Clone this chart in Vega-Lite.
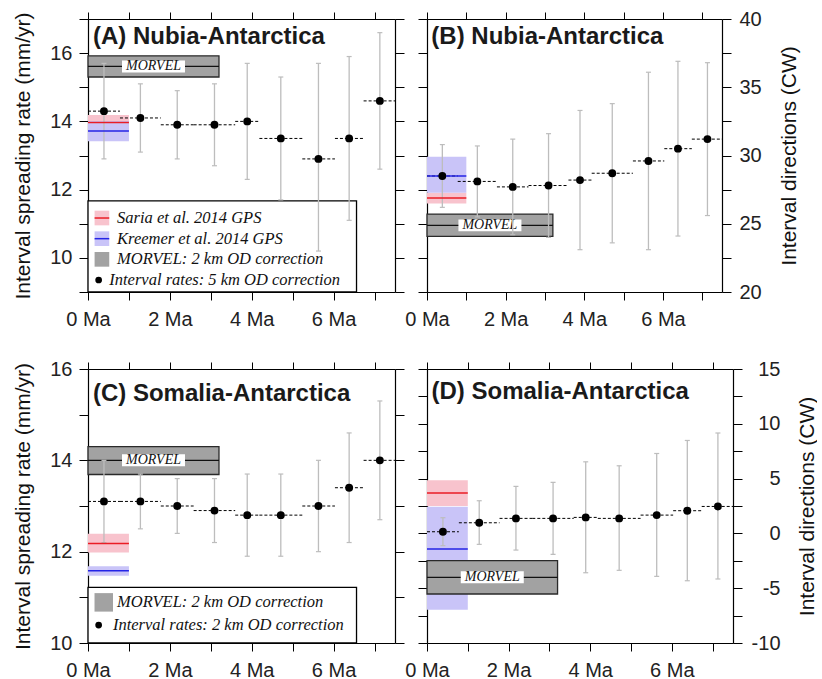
{
  "$schema": "https://vega.github.io/schema/vega-lite/v6.json",
  "background": "white",
  "padding": {"left": 12, "top": 9, "right": 0, "bottom": 0},
  "autosize": {"type": "pad"},
  "columns": 2,
  "spacing": {"row": 77, "column": 32},
  "bounds": "flush",
  "datasets": {
    "intA": [
      {"t":0.39,"t0":0,"t1":0.781,"v":14.3,"lo":12.9,"hi":15.7},
      {"t":1.28,"t0":0.781,"t1":1.778,"v":14.1,"lo":13.1,"hi":15.1},
      {"t":2.18,"t0":1.778,"t1":2.581,"v":13.9,"lo":12.9,"hi":14.9},
      {"t":3.09,"t0":2.581,"t1":3.596,"v":13.9,"lo":12.7,"hi":15.1},
      {"t":3.89,"t0":3.596,"t1":4.187,"v":14.0,"lo":12.3,"hi":15.7},
      {"t":4.71,"t0":4.187,"t1":5.235,"v":13.5,"lo":11.7,"hi":15.3},
      {"t":5.63,"t0":5.235,"t1":6.033,"v":12.9,"lo":10.2,"hi":15.7},
      {"t":6.38,"t0":6.033,"t1":6.733,"v":13.5,"lo":11.1,"hi":15.9},
      {"t":7.13,"t0":6.733,"t1":7.528,"v":14.6,"lo":12.6,"hi":16.6}
    ],
    "intB": [
      {"t":0.39,"t0":0,"t1":0.781,"v":28.5,"lo":26.2,"hi":30.8},
      {"t":1.28,"t0":0.781,"t1":1.778,"v":28.1,"lo":25.5,"hi":30.7},
      {"t":2.18,"t0":1.778,"t1":2.581,"v":27.7,"lo":24.2,"hi":31.2},
      {"t":3.09,"t0":2.581,"t1":3.596,"v":27.8,"lo":24.0,"hi":31.6},
      {"t":3.89,"t0":3.596,"t1":4.187,"v":28.2,"lo":23.1,"hi":33.3},
      {"t":4.71,"t0":4.187,"t1":5.235,"v":28.7,"lo":23.6,"hi":33.8},
      {"t":5.63,"t0":5.235,"t1":6.033,"v":29.6,"lo":23.1,"hi":36.1},
      {"t":6.38,"t0":6.033,"t1":6.733,"v":30.5,"lo":24.1,"hi":36.9},
      {"t":7.13,"t0":6.733,"t1":7.528,"v":31.2,"lo":25.6,"hi":36.8}
    ],
    "intC": [
      {"t":0.39,"t0":0,"t1":0.781,"v":13.1,"lo":12.2,"hi":14.0},
      {"t":1.28,"t0":0.781,"t1":1.778,"v":13.1,"lo":12.5,"hi":13.7},
      {"t":2.18,"t0":1.778,"t1":2.581,"v":13.0,"lo":12.4,"hi":13.6},
      {"t":3.09,"t0":2.581,"t1":3.596,"v":12.9,"lo":12.2,"hi":13.6},
      {"t":3.89,"t0":3.596,"t1":4.187,"v":12.8,"lo":11.9,"hi":13.7},
      {"t":4.71,"t0":4.187,"t1":5.235,"v":12.8,"lo":11.9,"hi":13.7},
      {"t":5.63,"t0":5.235,"t1":6.033,"v":13.0,"lo":12.0,"hi":14.0},
      {"t":6.38,"t0":6.033,"t1":6.733,"v":13.4,"lo":12.2,"hi":14.6},
      {"t":7.13,"t0":6.733,"t1":7.528,"v":14.0,"lo":12.7,"hi":15.3}
    ],
    "intD": [
      {"t":0.39,"t0":0,"t1":0.781,"v":0.15,"lo":-1.12,"hi":1.43},
      {"t":1.28,"t0":0.781,"t1":1.778,"v":0.97,"lo":-1.0,"hi":2.98},
      {"t":2.18,"t0":1.778,"t1":2.581,"v":1.37,"lo":-1.52,"hi":4.29},
      {"t":3.09,"t0":2.581,"t1":3.596,"v":1.37,"lo":-1.91,"hi":4.65},
      {"t":3.89,"t0":3.596,"t1":4.187,"v":1.46,"lo":-3.59,"hi":6.53},
      {"t":4.71,"t0":4.187,"t1":5.235,"v":1.37,"lo":-3.37,"hi":6.17},
      {"t":5.63,"t0":5.235,"t1":6.033,"v":1.67,"lo":-3.92,"hi":7.29},
      {"t":6.38,"t0":6.033,"t1":6.733,"v":2.07,"lo":-4.32,"hi":8.48},
      {"t":7.13,"t0":6.733,"t1":7.528,"v":2.46,"lo":-4.16,"hi":9.16}
    ],
    "refA": [
      {"model":"Saria","t0":0,"t1":1,"t":0.5,"v":13.97,"lo":13.75,"hi":14.19},
      {"model":"Kreemer","t0":0,"t1":1,"t":0.5,"v":13.72,"lo":13.42,"hi":14.01},
      {"model":"MORVEL","t0":0,"t1":3.2,"t":1.6,"v":15.61,"lo":15.3,"hi":15.92}
    ],
    "refB": [
      {"model":"Saria","t0":0,"t1":1,"t":0.5,"v":26.88,"lo":26.49,"hi":27.27},
      {"model":"Kreemer","t0":0,"t1":1,"t":0.5,"v":28.5,"lo":27.27,"hi":29.9},
      {"model":"MORVEL","t0":0,"t1":3.2,"t":1.6,"v":24.88,"lo":24.07,"hi":25.71}
    ],
    "refC": [
      {"model":"Saria","t0":0,"t1":1,"t":0.5,"v":12.18,"lo":11.98,"hi":12.39},
      {"model":"Kreemer","t0":0,"t1":1,"t":0.5,"v":11.58,"lo":11.47,"hi":11.68},
      {"model":"MORVEL","t0":0,"t1":3.2,"t":1.6,"v":14.0,"lo":13.69,"hi":14.3}
    ],
    "refD": [
      {"model":"Saria","t0":0,"t1":1,"t":0.5,"v":3.68,"lo":2.5,"hi":4.86},
      {"model":"Kreemer","t0":0,"t1":1,"t":0.5,"v":-1.43,"lo":-6.96,"hi":2.43},
      {"model":"MORVEL","t0":0,"t1":3.2,"t":1.6,"v":-4.01,"lo":-5.53,"hi":-2.49}
    ],
    "legA": [
      {"k":1,"item":"Saria","label":"Saria et al. 2014 GPS"},
      {"k":2,"item":"Kreemer","label":"Kreemer et al. 2014 GPS"},
      {"k":3,"item":"MORVEL","label":"MORVEL: 2 km OD correction"},
      {"k":4,"item":"Interval","label":"Interval rates: 5 km OD correction"}
    ],
    "legC": [
      {"k":1,"item":"MORVEL","label":"MORVEL: 2 km OD correction"},
      {"k":2,"item":"Interval","label":"Interval rates: 2 km OD correction"}
    ]
  },
  "concat": [
    {
      "width": 307, "height": 273,
      "resolve": {"scale": {"y": "independent", "fill": "independent", "stroke": "independent"}},
      "layer": [
        {
          "resolve": {"axis": {"x": "independent", "y": "independent"}},
          "layer": [
            {"data": {"name": "refA"}, "transform": [{"filter": "datum.model != 'MORVEL'"}],
             "mark": {"type": "rect", "strokeWidth": 0},
             "encoding": {
               "x": {"field": "t0", "type": "quantitative", "scale": {"domain": [0, 7.5], "nice": false, "zero": false}, "axis": null},
               "x2": {"field": "t1"},
               "y": {"field": "lo", "type": "quantitative", "scale": {"domain": [9, 17], "nice": false, "zero": false}, "axis": null},
               "y2": {"field": "hi"},
               "fill": {"field": "model", "type": "nominal", "scale": {"domain": ["Saria", "Kreemer"], "range": ["#f8c3cd", "#c9c4f8"]}, "legend": null}}},
            {"data": {"name": "refA"}, "transform": [{"filter": "datum.model == 'MORVEL'"}],
             "mark": {"type": "rect", "fill": "#a2a2a2", "stroke": "#2a2a2a", "strokeWidth": 1.3},
             "encoding": {"x": {"field": "t0", "type": "quantitative", "axis": null}, "x2": {"field": "t1"}, "y": {"field": "lo", "type": "quantitative", "axis": null}, "y2": {"field": "hi"}}},
            {"data": {"name": "refA"}, "transform": [{"filter": "datum.model == 'MORVEL'"}],
             "mark": {"type": "rule", "color": "#111", "strokeWidth": 1.3},
             "encoding": {"x": {"field": "t0", "type": "quantitative", "axis": null}, "x2": {"field": "t1"}, "y": {"field": "v", "type": "quantitative", "axis": null}}},
            {"data": {"name": "refA"}, "transform": [{"filter": "datum.model == 'MORVEL'"}],
             "mark": {"type": "point", "shape": "M-1,-0.19H1V0.19H-1Z", "size": 3969, "filled": true, "fill": "#fff", "opacity": 1, "strokeWidth": 0},
             "encoding": {"x": {"field": "t", "type": "quantitative", "axis": null}, "y": {"field": "v", "type": "quantitative", "axis": null}}},
            {"data": {"name": "refA"}, "transform": [{"filter": "datum.model == 'MORVEL'"}],
             "mark": {"type": "text", "font": "Liberation Serif", "fontStyle": "italic", "fontSize": 14, "color": "#111", "align": "center", "baseline": "middle"},
             "encoding": {"x": {"field": "t", "type": "quantitative", "axis": null}, "y": {"field": "v", "type": "quantitative", "axis": null}, "text": {"field": "model"}}},
            {"data": {"values": [{}]},
             "mark": {"type": "rect", "fill": "#fff", "stroke": "#000", "strokeWidth": 1.3},
             "encoding": {"x": {"datum": 0, "axis": null}, "x2": {"datum": 6.56}, "y": {"datum": 9, "axis": null}, "y2": {"datum": 11.67}}},
            {"data": {"name": "intA"},
             "mark": {"type": "rule", "color": "#bdbdbd", "strokeWidth": 1.3},
             "encoding": {"x": {"field": "t", "type": "quantitative", "axis": null}, "y": {"field": "lo", "type": "quantitative", "axis": null}, "y2": {"field": "hi"}}},
            {"data": {"name": "intA"},
             "mark": {"type": "tick", "orient": "horizontal", "size": 5, "thickness": 1.2, "color": "#bdbdbd", "opacity": 1},
             "encoding": {"x": {"field": "t", "type": "quantitative", "axis": null}, "y": {"field": "lo", "type": "quantitative", "axis": null}}},
            {"data": {"name": "intA"},
             "mark": {"type": "tick", "orient": "horizontal", "size": 5, "thickness": 1.2, "color": "#bdbdbd", "opacity": 1},
             "encoding": {"x": {"field": "t", "type": "quantitative", "axis": null}, "y": {"field": "hi", "type": "quantitative", "axis": null}}},
            {"data": {"name": "intA"},
             "mark": {"type": "rule", "color": "#000", "strokeWidth": 1, "strokeDash": [3, 2], "clip": true},
             "encoding": {
               "x": {"field": "t0", "type": "quantitative", "axis": {"orient": "bottom", "values": [0,1,2,3,4,5,6,7], "labelExpr": "datum.value % 2 == 0 ? datum.value + ' Ma' : ''", "tickSize": 8, "labelPadding": 9, "title": null}},
               "x2": {"field": "t1"},
               "y": {"field": "v", "type": "quantitative", "axis": {"orient": "left", "values": [9,10,11,12,13,14,15,16,17], "labelExpr": "datum.value % 2 == 0 ? datum.label : ''", "tickSize": 9, "labelPadding": 7, "title": "Interval spreading rate (mm/yr)", "titlePadding": 16}}}},
            {"data": {"name": "refA"}, "transform": [{"filter": "datum.model != 'MORVEL'"}],
             "mark": {"type": "rule", "strokeWidth": 1.5},
             "encoding": {"x": {"field": "t0", "type": "quantitative", "axis": null}, "x2": {"field": "t1"}, "y": {"field": "v", "type": "quantitative", "axis": null},
               "stroke": {"field": "model", "type": "nominal", "scale": {"domain": ["Saria", "Kreemer"], "range": ["#ea1d25", "#2424e6"]}, "legend": null}}},
            {"data": {"name": "intA"},
             "mark": {"type": "point", "filled": true, "color": "#000", "size": 62, "opacity": 1},
             "encoding": {
               "x": {"field": "t", "type": "quantitative", "axis": {"orient": "top", "values": [0,1,2,3,4,5,6,7], "labels": false, "tickSize": 7, "title": null}},
               "y": {"field": "v", "type": "quantitative", "axis": {"orient": "right", "values": [9,10,11,12,13,14,15,16,17], "labels": false, "tickSize": 9, "title": null}}}},
            {"data": {"values": [{}]},
             "mark": {"type": "text", "text": "(A) Nubia-Antarctica", "font": "Liberation Sans", "fontWeight": "bold", "fontSize": 24, "color": "#1a1a1a", "align": "left", "baseline": "alphabetic"},
             "encoding": {"x": {"datum": 0.12, "axis": null}, "y": {"datum": 16.27, "axis": null}}}
          ]
        },
        {
          "data": {"name": "legA"},
          "layer": [
            {"transform": [{"filter": "datum.item != 'Interval'"}],
             "mark": {"type": "point", "shape": "square", "filled": true, "size": 215, "opacity": 1, "strokeWidth": 0},
             "encoding": {"x": {"datum": 0.34, "axis": null},
               "y": {"field": "k", "type": "quantitative", "scale": {"domain": [-8.63, 4.58], "reverse": true, "nice": false, "zero": false}, "axis": null},
               "fill": {"field": "item", "type": "nominal", "scale": {"domain": ["Saria", "Kreemer", "MORVEL"], "range": ["#f8c3cd", "#c9c4f8", "#a2a2a2"]}, "legend": null}}},
            {"transform": [{"filter": "datum.item == 'Saria' || datum.item == 'Kreemer'"}],
             "mark": {"type": "point", "shape": "M-1,0H1", "filled": false, "size": 215, "strokeWidth": 1.5, "opacity": 1},
             "encoding": {"x": {"datum": 0.34, "axis": null}, "y": {"field": "k", "type": "quantitative", "axis": null},
               "stroke": {"field": "item", "type": "nominal", "scale": {"domain": ["Saria", "Kreemer"], "range": ["#ea1d25", "#2424e6"]}, "legend": null}}},
            {"transform": [{"filter": "datum.item == 'Interval'"}],
             "mark": {"type": "point", "shape": "circle", "filled": true, "size": 45, "color": "#000", "opacity": 1},
             "encoding": {"x": {"datum": 0.26, "axis": null}, "y": {"field": "k", "type": "quantitative", "axis": null}}},
            {"transform": [{"filter": "datum.item != 'Interval'"}],
             "mark": {"type": "text", "align": "left", "baseline": "middle", "font": "Liberation Serif", "fontStyle": "italic", "fontSize": 16.5, "color": "#111"},
             "encoding": {"x": {"datum": 0.71, "axis": null}, "y": {"field": "k", "type": "quantitative", "axis": null}, "text": {"field": "label"}}},
            {"transform": [{"filter": "datum.item == 'Interval'"}],
             "mark": {"type": "text", "align": "left", "baseline": "middle", "font": "Liberation Serif", "fontStyle": "italic", "fontSize": 16.5, "color": "#111"},
             "encoding": {"x": {"datum": 0.52, "axis": null}, "y": {"field": "k", "type": "quantitative", "axis": null}, "text": {"field": "label"}}}
          ]
        }
      ]
    },
    {
      "width": 295, "height": 273,
      "resolve": {"axis": {"x": "independent", "y": "independent"}},
      "layer": [
        {"data": {"name": "refB"}, "transform": [{"filter": "datum.model != 'MORVEL'"}],
         "mark": {"type": "rect", "strokeWidth": 0},
         "encoding": {
           "x": {"field": "t0", "type": "quantitative", "scale": {"domain": [0, 7.5], "nice": false, "zero": false}, "axis": null},
           "x2": {"field": "t1"},
           "y": {"field": "lo", "type": "quantitative", "scale": {"domain": [20, 40], "nice": false, "zero": false}, "axis": null},
           "y2": {"field": "hi"},
           "fill": {"field": "model", "type": "nominal", "scale": {"domain": ["Saria", "Kreemer"], "range": ["#f8c3cd", "#c9c4f8"]}, "legend": null}}},
        {"data": {"name": "refB"}, "transform": [{"filter": "datum.model == 'MORVEL'"}],
         "mark": {"type": "rect", "fill": "#a2a2a2", "stroke": "#2a2a2a", "strokeWidth": 1.3},
         "encoding": {"x": {"field": "t0", "type": "quantitative", "axis": null}, "x2": {"field": "t1"}, "y": {"field": "lo", "type": "quantitative", "axis": null}, "y2": {"field": "hi"}}},
        {"data": {"name": "refB"}, "transform": [{"filter": "datum.model == 'MORVEL'"}],
         "mark": {"type": "rule", "color": "#111", "strokeWidth": 1.3},
         "encoding": {"x": {"field": "t0", "type": "quantitative", "axis": null}, "x2": {"field": "t1"}, "y": {"field": "v", "type": "quantitative", "axis": null}}},
        {"data": {"name": "refB"}, "transform": [{"filter": "datum.model == 'MORVEL'"}],
         "mark": {"type": "point", "shape": "M-1,-0.19H1V0.19H-1Z", "size": 3969, "filled": true, "fill": "#fff", "opacity": 1, "strokeWidth": 0},
         "encoding": {"x": {"field": "t", "type": "quantitative", "axis": null}, "y": {"field": "v", "type": "quantitative", "axis": null}}},
        {"data": {"name": "refB"}, "transform": [{"filter": "datum.model == 'MORVEL'"}],
         "mark": {"type": "text", "font": "Liberation Serif", "fontStyle": "italic", "fontSize": 14, "color": "#111", "align": "center", "baseline": "middle"},
         "encoding": {"x": {"field": "t", "type": "quantitative", "axis": null}, "y": {"field": "v", "type": "quantitative", "axis": null}, "text": {"field": "model"}}},
        {"data": {"name": "intB"},
         "mark": {"type": "rule", "color": "#bdbdbd", "strokeWidth": 1.3},
         "encoding": {"x": {"field": "t", "type": "quantitative", "axis": null}, "y": {"field": "lo", "type": "quantitative", "axis": null}, "y2": {"field": "hi"}}},
        {"data": {"name": "intB"},
         "mark": {"type": "tick", "orient": "horizontal", "size": 5, "thickness": 1.2, "color": "#bdbdbd", "opacity": 1},
         "encoding": {"x": {"field": "t", "type": "quantitative", "axis": null}, "y": {"field": "lo", "type": "quantitative", "axis": null}}},
        {"data": {"name": "intB"},
         "mark": {"type": "tick", "orient": "horizontal", "size": 5, "thickness": 1.2, "color": "#bdbdbd", "opacity": 1},
         "encoding": {"x": {"field": "t", "type": "quantitative", "axis": null}, "y": {"field": "hi", "type": "quantitative", "axis": null}}},
        {"data": {"name": "intB"},
         "mark": {"type": "rule", "color": "#000", "strokeWidth": 1, "strokeDash": [3, 2], "clip": true},
         "encoding": {
           "x": {"field": "t0", "type": "quantitative", "axis": {"orient": "bottom", "values": [0,1,2,3,4,5,6,7], "labelExpr": "datum.value % 2 == 0 ? datum.value + ' Ma' : ''", "tickSize": 8, "labelPadding": 9, "title": null}},
           "x2": {"field": "t1"},
           "y": {"field": "v", "type": "quantitative", "axis": {"orient": "left", "values": [20,22.5,25,27.5,30,32.5,35,37.5,40], "labels": false, "tickSize": 9, "title": null}}}},
        {"data": {"name": "refB"}, "transform": [{"filter": "datum.model != 'MORVEL'"}],
         "mark": {"type": "rule", "strokeWidth": 1.5},
         "encoding": {"x": {"field": "t0", "type": "quantitative", "axis": null}, "x2": {"field": "t1"}, "y": {"field": "v", "type": "quantitative", "axis": null},
           "stroke": {"field": "model", "type": "nominal", "scale": {"domain": ["Saria", "Kreemer"], "range": ["#ea1d25", "#2424e6"]}, "legend": null}}},
        {"data": {"name": "intB"},
         "mark": {"type": "point", "filled": true, "color": "#000", "size": 62, "opacity": 1},
         "encoding": {
           "x": {"field": "t", "type": "quantitative", "axis": {"orient": "top", "values": [0,1,2,3,4,5,6,7], "labels": false, "tickSize": 7, "title": null}},
           "y": {"field": "v", "type": "quantitative", "axis": {"orient": "right", "values": [20,22.5,25,27.5,30,32.5,35,37.5,40], "labelExpr": "datum.value % 5 == 0 ? '' + datum.value : ''", "tickSize": 9, "labelPadding": 8, "title": "Interval directions (CW)", "titleAngle": 270, "titleBaseline": "top", "titlePadding": 17}}}},
        {"data": {"values": [{}]},
         "mark": {"type": "text", "text": "(B) Nubia-Antarctica", "font": "Liberation Sans", "fontWeight": "bold", "fontSize": 24, "color": "#1a1a1a", "align": "left", "baseline": "alphabetic"},
         "encoding": {"x": {"datum": 0.11, "axis": null}, "y": {"datum": 38.17, "axis": null}}}
      ]
    },
    {
      "width": 307, "height": 274,
      "resolve": {"scale": {"y": "independent", "fill": "independent", "stroke": "independent"}},
      "layer": [
        {
          "resolve": {"axis": {"x": "independent", "y": "independent"}},
          "layer": [
            {"data": {"name": "refC"}, "transform": [{"filter": "datum.model != 'MORVEL'"}],
             "mark": {"type": "rect", "strokeWidth": 0},
             "encoding": {
               "x": {"field": "t0", "type": "quantitative", "scale": {"domain": [0, 7.5], "nice": false, "zero": false}, "axis": null},
               "x2": {"field": "t1"},
               "y": {"field": "lo", "type": "quantitative", "scale": {"domain": [10, 16], "nice": false, "zero": false}, "axis": null},
               "y2": {"field": "hi"},
               "fill": {"field": "model", "type": "nominal", "scale": {"domain": ["Saria", "Kreemer"], "range": ["#f8c3cd", "#c9c4f8"]}, "legend": null}}},
            {"data": {"name": "refC"}, "transform": [{"filter": "datum.model == 'MORVEL'"}],
             "mark": {"type": "rect", "fill": "#a2a2a2", "stroke": "#2a2a2a", "strokeWidth": 1.3},
             "encoding": {"x": {"field": "t0", "type": "quantitative", "axis": null}, "x2": {"field": "t1"}, "y": {"field": "lo", "type": "quantitative", "axis": null}, "y2": {"field": "hi"}}},
            {"data": {"name": "refC"}, "transform": [{"filter": "datum.model == 'MORVEL'"}],
             "mark": {"type": "rule", "color": "#111", "strokeWidth": 1.3},
             "encoding": {"x": {"field": "t0", "type": "quantitative", "axis": null}, "x2": {"field": "t1"}, "y": {"field": "v", "type": "quantitative", "axis": null}}},
            {"data": {"name": "refC"}, "transform": [{"filter": "datum.model == 'MORVEL'"}],
             "mark": {"type": "point", "shape": "M-1,-0.19H1V0.19H-1Z", "size": 3969, "filled": true, "fill": "#fff", "opacity": 1, "strokeWidth": 0},
             "encoding": {"x": {"field": "t", "type": "quantitative", "axis": null}, "y": {"field": "v", "type": "quantitative", "axis": null}}},
            {"data": {"name": "refC"}, "transform": [{"filter": "datum.model == 'MORVEL'"}],
             "mark": {"type": "text", "font": "Liberation Serif", "fontStyle": "italic", "fontSize": 14, "color": "#111", "align": "center", "baseline": "middle"},
             "encoding": {"x": {"field": "t", "type": "quantitative", "axis": null}, "y": {"field": "v", "type": "quantitative", "axis": null}, "text": {"field": "model"}}},
            {"data": {"values": [{}]},
             "mark": {"type": "rect", "fill": "#fff", "stroke": "#000", "strokeWidth": 1.3},
             "encoding": {"x": {"datum": 0, "axis": null}, "x2": {"datum": 6.56}, "y": {"datum": 10, "axis": null}, "y2": {"datum": 11.22}}},
            {"data": {"name": "intC"},
             "mark": {"type": "rule", "color": "#bdbdbd", "strokeWidth": 1.3},
             "encoding": {"x": {"field": "t", "type": "quantitative", "axis": null}, "y": {"field": "lo", "type": "quantitative", "axis": null}, "y2": {"field": "hi"}}},
            {"data": {"name": "intC"},
             "mark": {"type": "tick", "orient": "horizontal", "size": 5, "thickness": 1.2, "color": "#bdbdbd", "opacity": 1},
             "encoding": {"x": {"field": "t", "type": "quantitative", "axis": null}, "y": {"field": "lo", "type": "quantitative", "axis": null}}},
            {"data": {"name": "intC"},
             "mark": {"type": "tick", "orient": "horizontal", "size": 5, "thickness": 1.2, "color": "#bdbdbd", "opacity": 1},
             "encoding": {"x": {"field": "t", "type": "quantitative", "axis": null}, "y": {"field": "hi", "type": "quantitative", "axis": null}}},
            {"data": {"name": "intC"},
             "mark": {"type": "rule", "color": "#000", "strokeWidth": 1, "strokeDash": [3, 2], "clip": true},
             "encoding": {
               "x": {"field": "t0", "type": "quantitative", "axis": {"orient": "bottom", "values": [0,1,2,3,4,5,6,7], "labelExpr": "datum.value % 2 == 0 ? datum.value + ' Ma' : ''", "tickSize": 8, "labelPadding": 9, "title": null}},
               "x2": {"field": "t1"},
               "y": {"field": "v", "type": "quantitative", "axis": {"orient": "left", "values": [10,11,12,13,14,15,16], "labelExpr": "datum.value % 2 == 0 ? datum.label : ''", "tickSize": 9, "labelPadding": 7, "title": "Interval spreading rate (mm/yr)", "titlePadding": 16}}}},
            {"data": {"name": "refC"}, "transform": [{"filter": "datum.model != 'MORVEL'"}],
             "mark": {"type": "rule", "strokeWidth": 1.5},
             "encoding": {"x": {"field": "t0", "type": "quantitative", "axis": null}, "x2": {"field": "t1"}, "y": {"field": "v", "type": "quantitative", "axis": null},
               "stroke": {"field": "model", "type": "nominal", "scale": {"domain": ["Saria", "Kreemer"], "range": ["#ea1d25", "#2424e6"]}, "legend": null}}},
            {"data": {"name": "intC"},
             "mark": {"type": "point", "filled": true, "color": "#000", "size": 62, "opacity": 1},
             "encoding": {
               "x": {"field": "t", "type": "quantitative", "axis": {"orient": "top", "values": [0,1,2,3,4,5,6,7], "labels": false, "tickSize": 7, "title": null}},
               "y": {"field": "v", "type": "quantitative", "axis": {"orient": "right", "values": [10,11,12,13,14,15,16], "labels": false, "tickSize": 9, "title": null}}}},
            {"data": {"values": [{}]},
             "mark": {"type": "text", "text": "(C) Somalia-Antarctica", "font": "Liberation Sans", "fontWeight": "bold", "fontSize": 24, "color": "#1a1a1a", "align": "left", "baseline": "alphabetic"},
             "encoding": {"x": {"datum": 0.12, "axis": null}, "y": {"datum": 15.29, "axis": null}}}
          ]
        },
        {
          "data": {"name": "legC"},
          "layer": [
            {"transform": [{"filter": "datum.item == 'MORVEL'"}],
             "mark": {"type": "point", "shape": "square", "filled": true, "size": 342, "opacity": 1, "strokeWidth": 0, "fill": "#a2a2a2"},
             "encoding": {"x": {"datum": 0.385, "axis": null},
               "y": {"field": "k", "type": "quantitative", "scale": {"domain": [-9.28, 2.79], "reverse": true, "nice": false, "zero": false}, "axis": null}}},
            {"transform": [{"filter": "datum.item == 'Interval'"}],
             "mark": {"type": "point", "shape": "circle", "filled": true, "size": 45, "color": "#000", "opacity": 1},
             "encoding": {"x": {"datum": 0.26, "axis": null}, "y": {"field": "k", "type": "quantitative", "axis": null}}},
            {"transform": [{"filter": "datum.item != 'Interval'"}],
             "mark": {"type": "text", "align": "left", "baseline": "middle", "font": "Liberation Serif", "fontStyle": "italic", "fontSize": 16.5, "color": "#111"},
             "encoding": {"x": {"datum": 0.71, "axis": null}, "y": {"field": "k", "type": "quantitative", "axis": null}, "text": {"field": "label"}}},
            {"transform": [{"filter": "datum.item == 'Interval'"}],
             "mark": {"type": "text", "align": "left", "baseline": "middle", "font": "Liberation Serif", "fontStyle": "italic", "fontSize": 16.5, "color": "#111"},
             "encoding": {"x": {"datum": 0.61, "axis": null}, "y": {"field": "k", "type": "quantitative", "axis": null}, "text": {"field": "label"}}}
          ]
        }
      ]
    },
    {
      "width": 306, "height": 274,
      "resolve": {"axis": {"x": "independent", "y": "independent"}},
      "layer": [
        {"data": {"name": "refD"}, "transform": [{"filter": "datum.model != 'MORVEL'"}],
         "mark": {"type": "rect", "strokeWidth": 0},
         "encoding": {
           "x": {"field": "t0", "type": "quantitative", "scale": {"domain": [0, 7.5], "nice": false, "zero": false}, "axis": null},
           "x2": {"field": "t1"},
           "y": {"field": "lo", "type": "quantitative", "scale": {"domain": [-10, 15], "nice": false, "zero": false}, "axis": null},
           "y2": {"field": "hi"},
           "fill": {"field": "model", "type": "nominal", "scale": {"domain": ["Saria", "Kreemer"], "range": ["#f8c3cd", "#c9c4f8"]}, "legend": null}}},
        {"data": {"name": "refD"}, "transform": [{"filter": "datum.model == 'MORVEL'"}],
         "mark": {"type": "rect", "fill": "#a2a2a2", "stroke": "#2a2a2a", "strokeWidth": 1.3},
         "encoding": {"x": {"field": "t0", "type": "quantitative", "axis": null}, "x2": {"field": "t1"}, "y": {"field": "lo", "type": "quantitative", "axis": null}, "y2": {"field": "hi"}}},
        {"data": {"name": "refD"}, "transform": [{"filter": "datum.model == 'MORVEL'"}],
         "mark": {"type": "rule", "color": "#111", "strokeWidth": 1.3},
         "encoding": {"x": {"field": "t0", "type": "quantitative", "axis": null}, "x2": {"field": "t1"}, "y": {"field": "v", "type": "quantitative", "axis": null}}},
        {"data": {"name": "refD"}, "transform": [{"filter": "datum.model == 'MORVEL'"}],
         "mark": {"type": "point", "shape": "M-1,-0.19H1V0.19H-1Z", "size": 3969, "filled": true, "fill": "#fff", "opacity": 1, "strokeWidth": 0},
         "encoding": {"x": {"field": "t", "type": "quantitative", "axis": null}, "y": {"field": "v", "type": "quantitative", "axis": null}}},
        {"data": {"name": "refD"}, "transform": [{"filter": "datum.model == 'MORVEL'"}],
         "mark": {"type": "text", "font": "Liberation Serif", "fontStyle": "italic", "fontSize": 14, "color": "#111", "align": "center", "baseline": "middle"},
         "encoding": {"x": {"field": "t", "type": "quantitative", "axis": null}, "y": {"field": "v", "type": "quantitative", "axis": null}, "text": {"field": "model"}}},
        {"data": {"name": "intD"},
         "mark": {"type": "rule", "color": "#bdbdbd", "strokeWidth": 1.3},
         "encoding": {"x": {"field": "t", "type": "quantitative", "axis": null}, "y": {"field": "lo", "type": "quantitative", "axis": null}, "y2": {"field": "hi"}}},
        {"data": {"name": "intD"},
         "mark": {"type": "tick", "orient": "horizontal", "size": 5, "thickness": 1.2, "color": "#bdbdbd", "opacity": 1},
         "encoding": {"x": {"field": "t", "type": "quantitative", "axis": null}, "y": {"field": "lo", "type": "quantitative", "axis": null}}},
        {"data": {"name": "intD"},
         "mark": {"type": "tick", "orient": "horizontal", "size": 5, "thickness": 1.2, "color": "#bdbdbd", "opacity": 1},
         "encoding": {"x": {"field": "t", "type": "quantitative", "axis": null}, "y": {"field": "hi", "type": "quantitative", "axis": null}}},
        {"data": {"name": "intD"},
         "mark": {"type": "rule", "color": "#000", "strokeWidth": 1, "strokeDash": [3, 2], "clip": true},
         "encoding": {
           "x": {"field": "t0", "type": "quantitative", "axis": {"orient": "bottom", "values": [0,1,2,3,4,5,6,7], "labelExpr": "datum.value % 2 == 0 ? datum.value + ' Ma' : ''", "tickSize": 8, "labelPadding": 9, "title": null}},
           "x2": {"field": "t1"},
           "y": {"field": "v", "type": "quantitative", "axis": {"orient": "left", "values": [-10,-7.5,-5,-2.5,0,2.5,5,7.5,10,12.5,15], "labels": false, "tickSize": 9, "title": null}}}},
        {"data": {"name": "refD"}, "transform": [{"filter": "datum.model != 'MORVEL'"}],
         "mark": {"type": "rule", "strokeWidth": 1.5},
         "encoding": {"x": {"field": "t0", "type": "quantitative", "axis": null}, "x2": {"field": "t1"}, "y": {"field": "v", "type": "quantitative", "axis": null},
           "stroke": {"field": "model", "type": "nominal", "scale": {"domain": ["Saria", "Kreemer"], "range": ["#ea1d25", "#2424e6"]}, "legend": null}}},
        {"data": {"name": "intD"},
         "mark": {"type": "point", "filled": true, "color": "#000", "size": 62, "opacity": 1},
         "encoding": {
           "x": {"field": "t", "type": "quantitative", "axis": {"orient": "top", "values": [0,1,2,3,4,5,6,7], "labels": false, "tickSize": 7, "title": null}},
           "y": {"field": "v", "type": "quantitative", "axis": {"orient": "right", "values": [-10,-7.5,-5,-2.5,0,2.5,5,7.5,10,12.5,15], "labelExpr": "datum.value % 5 == 0 ? '' + datum.value : ''", "labelAlign": "right", "tickSize": 9, "labelPadding": 38, "title": "Interval directions (CW)", "titleAngle": 270, "titleBaseline": "top", "titlePadding": 16}}}},
        {"data": {"values": [{}]},
         "mark": {"type": "text", "text": "(D) Somalia-Antarctica", "font": "Liberation Sans", "fontWeight": "bold", "fontSize": 24, "color": "#1a1a1a", "align": "left", "baseline": "alphabetic"},
         "encoding": {"x": {"datum": 0.11, "axis": null}, "y": {"datum": 12.26, "axis": null}}}
      ]
    }
  ],
  "config": {
    "view": {"stroke": null},
    "axis": {
      "zindex": 1, "grid": false, "domain": true, "domainColor": "#000", "domainWidth": 1.2,
      "ticks": true, "tickColor": "#000", "tickWidth": 1,
      "labelFont": "Liberation Sans", "labelFontSize": 20, "labelColor": "#222",
      "titleFont": "Liberation Sans", "titleFontSize": 21, "titleFontWeight": "normal", "titleColor": "#111",
      "labelOverlap": false, "labelFlush": false
    }
  }
}
